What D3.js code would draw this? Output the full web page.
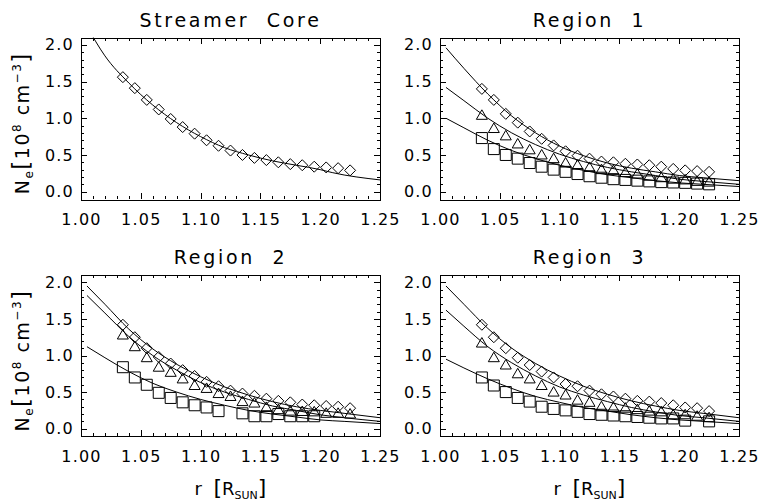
<!DOCTYPE html>
<html><head><meta charset="utf-8">
<script src="https://cdn.jsdelivr.net/npm/d3@7"></script>
<style>
body{margin:0;background:#fff}
svg{display:block;background:#fff}
text{font-family:"DejaVu Sans",sans-serif;fill:#000}
</style>
</head><body>
<svg id="chart" width="763" height="502"></svg>
<script>
// ---------- data ----------
const panelTitles = ["Streamer  Core", "Region  1", "Region  2", "Region  3"];
const xTicks = [1.00, 1.05, 1.10, 1.15, 1.20, 1.25];
const xTickLabels = ["1.00", "1.05", "1.10", "1.15", "1.20", "1.25"];
const xMinorTicks = [1.01,1.02,1.03,1.04,1.06,1.07,1.08,1.09,1.11,1.12,1.13,1.14,1.16,1.17,1.18,1.19,1.21,1.22,1.23,1.24];
const yTicks = [0.0, 0.5, 1.0, 1.5, 2.0];
const yTickLabels = ["0.0", "0.5", "1.0", "1.5", "2.0"];
const yMinorTicks = [0.1,0.2,0.3,0.4,0.6,0.7,0.8,0.9,1.1,1.2,1.3,1.4,1.6,1.7,1.8,1.9];

const rPoints = [1.035,1.045,1.055,1.065,1.075,1.085,1.095,1.105,1.115,1.125,1.135,1.145,1.155,1.165,1.175,1.185,1.195,1.205,1.215,1.225];
const rFit = [1.005,1.02,1.04,1.06,1.08,1.10,1.12,1.14,1.16,1.18,1.20,1.22,1.25];
const rFitCore = [1.005,1.02,1.04,1.06,1.08,1.10,1.12,1.14,1.16,1.18,1.20,1.21,1.25];

// Streamer core
const coreDiamonds = [1.56,1.41,1.25,1.12,0.99,0.88,0.79,0.70,0.625,0.56,0.50,0.46,0.43,0.40,0.375,0.36,0.34,0.33,0.32,0.29];
const coreFit = [2.25,1.85,1.48,1.18,0.94,0.75,0.60,0.50,0.42,0.36,0.30,0.26,0.16];

// Region 1
const r1Diamonds = [1.40,1.25,1.06,0.94,0.82,0.72,0.63,0.55,0.49,0.45,0.41,0.40,0.38,0.37,0.36,0.34,0.31,0.29,0.28,0.27];
const r1Triangles = [1.04,0.86,0.76,0.65,0.57,0.50,0.45,0.39,0.36,0.33,0.30,0.29,0.26,0.24,0.21,0.19,0.17,0.16,0.14,0.13];
const r1Squares = [0.73,0.58,0.50,0.45,0.39,0.34,0.30,0.27,0.24,0.21,0.19,0.17,0.16,0.15,0.14,0.13,0.125,0.12,0.11,0.10];
const r1FitDiamond = [1.96,1.68,1.33,1.03,0.80,0.62,0.49,0.39,0.32,0.27,0.22,0.19,0.15];
const r1FitTriangle = [1.42,1.24,1.00,0.80,0.64,0.51,0.41,0.33,0.27,0.22,0.17,0.14,0.10];
const r1FitSquare = [1.00,0.87,0.70,0.56,0.45,0.36,0.29,0.23,0.19,0.15,0.12,0.10,0.07];

// Region 2
const r2Diamonds = [1.42,1.25,1.10,0.98,0.89,0.80,0.72,0.64,0.58,0.52,0.48,0.45,0.41,0.38,0.36,0.33,0.32,0.31,0.30,0.28];
const r2Triangles = [1.28,1.12,0.97,0.84,0.77,0.68,0.59,0.55,0.48,0.44,0.37,0.35,0.29,0.26,0.24,0.235,0.23,0.21,0.21,0.20];
const r2Squares = [0.84,0.70,0.60,0.49,0.42,0.36,0.32,0.29,0.24,null,0.21,0.17,0.17,0.20,0.17,0.17,0.17,null,null,null];
const r2FitDiamond = [1.95,1.70,1.36,1.09,0.88,0.71,0.57,0.46,0.37,0.30,0.25,0.21,0.15];
const r2FitTriangle = [1.82,1.58,1.26,1.00,0.80,0.63,0.50,0.40,0.31,0.25,0.19,0.15,0.10];
const r2FitSquare = [1.12,0.97,0.78,0.62,0.50,0.40,0.32,0.25,0.20,0.16,0.12,0.10,0.07];

// Region 3
const r3Diamonds = [1.42,1.25,1.10,0.97,0.87,0.78,0.70,0.61,0.58,0.52,0.47,0.44,0.41,0.38,0.37,0.35,0.32,0.29,0.28,0.24];
const r3Triangles = [1.17,0.97,0.87,0.75,0.68,0.59,0.50,0.46,0.39,0.36,0.30,0.29,0.28,0.26,0.24,0.23,0.19,0.19,0.17,0.15];
const r3Squares = [0.70,0.59,0.50,0.42,0.37,0.30,0.27,0.25,0.23,0.20,0.19,0.18,0.17,0.16,0.15,0.14,0.14,0.11,null,0.10];
const r3FitDiamond = [1.95,1.70,1.37,1.10,0.89,0.72,0.58,0.47,0.38,0.31,0.25,0.21,0.15];
const r3FitTriangle = [1.62,1.40,1.12,0.90,0.72,0.57,0.46,0.37,0.29,0.23,0.18,0.15,0.10];
const r3FitSquare = [0.95,0.83,0.68,0.55,0.44,0.36,0.29,0.24,0.19,0.15,0.12,0.10,0.07];

// ---------- layout ----------
const panels = [
  {title: panelTitles[0], left: 81, right: 380, top: 37.5, bottom: 199, xlab: false,
   series: [{sym: "diamond", v: coreDiamonds}], fits: [{r: rFitCore, v: coreFit}]},
  {title: panelTitles[1], left: 440, right: 739, top: 37.5, bottom: 199, xlab: false,
   series: [{sym: "diamond", v: r1Diamonds}, {sym: "triangle", v: r1Triangles}, {sym: "square", v: r1Squares}],
   fits: [{r: rFit, v: r1FitDiamond}, {r: rFit, v: r1FitTriangle}, {r: rFit, v: r1FitSquare}]},
  {title: panelTitles[2], left: 81, right: 380, top: 275, bottom: 436, xlab: true,
   series: [{sym: "diamond", v: r2Diamonds}, {sym: "triangle", v: r2Triangles}, {sym: "square", v: r2Squares}],
   fits: [{r: rFit, v: r2FitDiamond}, {r: rFit, v: r2FitTriangle}, {r: rFit, v: r2FitSquare}]},
  {title: panelTitles[3], left: 440, right: 739, top: 275, bottom: 436, xlab: true,
   series: [{sym: "diamond", v: r3Diamonds}, {sym: "triangle", v: r3Triangles}, {sym: "square", v: r3Squares}],
   fits: [{r: rFit, v: r3FitDiamond}, {r: rFit, v: r3FitTriangle}, {r: rFit, v: r3FitSquare}]}
];

const svg = d3.select("#chart");
const symPath = {
  diamond: "M0,-5.5L5.5,0L0,5.5L-5.5,0Z",
  triangle: "M0,-5.5L5.5,4L-5.5,4Z",
  square: "M-5.5,-5.5H5.5V5.5H-5.5Z"
};

panels.forEach((p, i) => {
  const x = d3.scaleLinear().domain([1.0, 1.25]).range([p.left, p.right]);
  const y = d3.scaleLinear().domain([-0.1, 2.1]).range([p.bottom, p.top]);
  const g = svg.append("g");

  const clipId = "clip" + i;
  svg.append("clipPath").attr("id", clipId).append("rect")
    .attr("x", p.left).attr("y", p.top).attr("width", p.right - p.left).attr("height", p.bottom - p.top);

  // axes (ticks inward on all four sides)
  const styleAxis = (sel, withText) => {
    sel.select(".domain").remove();
    sel.selectAll("line").attr("stroke", "#000").attr("stroke-width", 1).attr("shape-rendering", "crispEdges");
    if (!withText) sel.selectAll("text").remove();
    else sel.selectAll("text").attr("font-family", "DejaVu Sans").attr("font-size", 16)
      .attr("letter-spacing", "1.2px").attr("fill", "#000");
  };
  g.append("g").attr("transform", `translate(0,${p.bottom})`)
    .call(d3.axisBottom(x).tickValues(xTicks).tickFormat((d, k) => xTickLabels[k]).tickSizeInner(-6).tickSizeOuter(0).tickPadding(15))
    .call(s => styleAxis(s, true));
  g.append("g").attr("transform", `translate(0,${p.bottom})`)
    .call(d3.axisBottom(x).tickValues(xMinorTicks).tickSizeInner(-3).tickSizeOuter(0))
    .call(s => styleAxis(s, false));
  g.append("g").attr("transform", `translate(0,${p.top})`)
    .call(d3.axisTop(x).tickValues(xTicks).tickSizeInner(-6).tickSizeOuter(0))
    .call(s => styleAxis(s, false));
  g.append("g").attr("transform", `translate(0,${p.top})`)
    .call(d3.axisTop(x).tickValues(xMinorTicks).tickSizeInner(-3).tickSizeOuter(0))
    .call(s => styleAxis(s, false));
  g.append("g").attr("transform", `translate(${p.left},0)`)
    .call(d3.axisLeft(y).tickValues(yTicks).tickFormat((d, k) => yTickLabels[k]).tickSizeInner(-6).tickSizeOuter(0).tickPadding(7))
    .call(s => styleAxis(s, true));
  g.append("g").attr("transform", `translate(${p.left},0)`)
    .call(d3.axisLeft(y).tickValues(yMinorTicks).tickSizeInner(-3).tickSizeOuter(0))
    .call(s => styleAxis(s, false));
  g.append("g").attr("transform", `translate(${p.right},0)`)
    .call(d3.axisRight(y).tickValues(yTicks).tickSizeInner(-6).tickSizeOuter(0))
    .call(s => styleAxis(s, false));
  g.append("g").attr("transform", `translate(${p.right},0)`)
    .call(d3.axisRight(y).tickValues(yMinorTicks).tickSizeInner(-3).tickSizeOuter(0))
    .call(s => styleAxis(s, false));

  // frame
  g.append("rect").attr("x", p.left + 0.5).attr("y", Math.round(p.top) + 0.5)
    .attr("width", p.right - p.left).attr("height", Math.round(p.bottom - p.top))
    .attr("fill", "none").attr("stroke", "#000").attr("stroke-width", 1).attr("shape-rendering", "crispEdges");

  // fit curves
  const line = d3.line().x(d => x(d[0])).y(d => y(d[1])).curve(d3.curveMonotoneX);
  p.fits.forEach(f => {
    g.append("path").attr("clip-path", `url(#${clipId})`)
      .attr("d", line(f.r.map((r, k) => [r, f.v[k]])))
      .attr("fill", "none").attr("stroke", "#000").attr("stroke-width", 1);
  });

  // data markers
  p.series.forEach(s => {
    const pts = rPoints.map((r, k) => [r, s.v[k]]).filter(d => d[1] !== null);
    g.selectAll(null).data(pts).enter().append("path")
      .attr("transform", d => `translate(${x(d[0])},${y(d[1])})`)
      .attr("d", symPath[s.sym])
      .attr("fill", "none").attr("stroke", "#000").attr("stroke-width", 1);
  });

  // title
  g.append("text").attr("x", (p.left + p.right) / 2).attr("y", p.top - 11)
    .attr("text-anchor", "middle").attr("font-size", 19).attr("letter-spacing", "2.7px")
    .style("white-space", "pre").text(p.title);

  // y label (left column only)
  if (p.left < 200) {
    const cy = (p.top + p.bottom) / 2 + 5;
    const t = g.append("text").attr("transform", `translate(29,${cy}) rotate(-90)`)
      .attr("text-anchor", "middle").attr("letter-spacing", "1.5px").style("white-space", "pre");
    t.append("tspan").attr("font-size", 19).text("N");
    t.append("tspan").attr("font-size", 12).attr("dy", 4).text("e");
    t.append("tspan").attr("font-size", 23).attr("dy", -4).text("[");
    t.append("tspan").attr("font-size", 19).text("10");
    t.append("tspan").attr("font-size", 12).attr("dy", -8).text("8");
    t.append("tspan").attr("font-size", 19).attr("dy", 8).text(" cm");
    t.append("tspan").attr("font-size", 12).attr("dy", -8).text("−3");
    t.append("tspan").attr("font-size", 23).attr("dy", 8).text("]");
  }

  // x label (bottom row only)
  if (p.xlab) {
    const t = g.append("text").attr("x", (p.left + p.right) / 2).attr("y", 495)
      .attr("text-anchor", "middle").style("white-space", "pre");
    t.append("tspan").attr("font-size", 18).text("r  ");
    t.append("tspan").attr("font-size", 22).text("[");
    t.append("tspan").attr("font-size", 18).text("R");
    t.append("tspan").attr("font-size", 11).attr("dy", 4).text("SUN");
    t.append("tspan").attr("font-size", 22).attr("dy", -4).text("]");
  }
});
</script>
</body></html>
